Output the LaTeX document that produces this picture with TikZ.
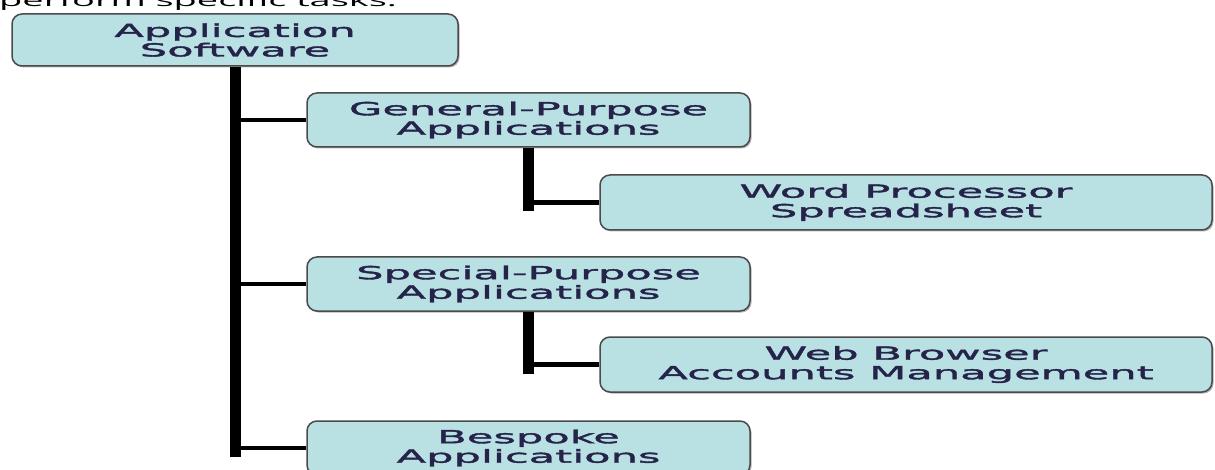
\documentclass[tikz,border=0pt]{standalone}
\usepackage{fontspec}
\usetikzlibrary{shadows}
\newfontfamily\boxfont[FakeStretch=2.4,FakeBold=2]{DejaVu Sans}
\newfontfamily\capfont[FakeStretch=2.3]{Open Sans}
\definecolor{boxfill}{HTML}{B9E0E3}
\definecolor{boxline}{HTML}{4A4A4A}
\definecolor{boxtext}{HTML}{25234A}
\tikzset{
  appbox/.style={draw=boxline, line width=1.5pt, fill=boxfill, rounded corners=10pt,
    text=boxtext, align=center, inner sep=0pt,
    drop shadow={shadow xshift=1.5pt, shadow yshift=-1.5pt, fill=gray, opacity=0.6},
    font=\boxfont\fontsize{18}{19.5}\selectfont},
  trunk/.style={line width=11pt, draw=black, line cap=rect},
  branch/.style={line width=4.5pt, draw=black}
}
\begin{document}
\begin{tikzpicture}[x=1pt,y=-1pt]
\useasboundingbox (0,0) rectangle (1215,470);
\node[anchor=base west, inner sep=0pt, font=\capfont\fontsize{16.5}{18}\selectfont] (cap) at (-1,7) {perform specific tasks.};
\node[appbox, minimum width=446pt, minimum height=52pt] (app) at (235,40) {Application\\Software};
\node[appbox, minimum width=443pt, minimum height=54pt] (gen) at (528.5,120) {General-Purpose\\Applications};
\node[appbox, minimum width=612pt, minimum height=55pt] (wp) at (906,202.5) {Word Processor\\Spreadsheet};
\node[appbox, minimum width=443pt, minimum height=54pt] (spe) at (528.5,284) {Special-Purpose\\Applications};
\node[appbox, minimum width=612pt, minimum height=55pt] (web) at (906,364.5) {Web Browser\\Accounts Management};
\node[appbox, minimum width=443pt, minimum height=54pt] (bes) at (528.5,448) {Bespoke\\Applications};
% connectors
\coordinate (t1) at (app.south |- gen.west);
\coordinate (t2) at (app.south |- spe.west);
\coordinate (t3) at (app.south |- bes.west);
\coordinate (g1) at (gen.south |- wp.west);
\coordinate (s1) at (spe.south |- web.west);
\draw[branch] (t1) -- (gen.west);
\draw[branch] (t2) -- (spe.west);
\draw[branch] (t3) -- (bes.west);
\draw[branch] (g1) -- (wp.west);
\draw[branch] (s1) -- (web.west);
\draw[trunk] ([yshift=-6pt]app.south) -- ([yshift=-3.5pt]t3);
\draw[trunk] ([yshift=-6pt]gen.south) -- ([yshift=-3.5pt]g1);
\draw[trunk] ([yshift=-6pt]spe.south) -- ([yshift=-3.5pt]s1);
\end{tikzpicture}
\end{document}
